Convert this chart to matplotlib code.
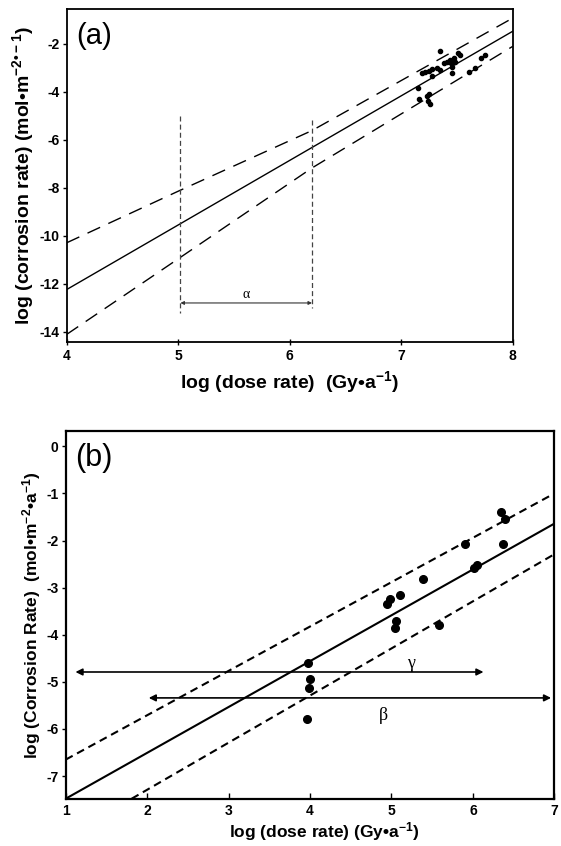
import numpy as np
import matplotlib
matplotlib.use('Agg')
import matplotlib.pyplot as plt

plt.rcParams['font.family'] = ['Liberation Sans', 'DejaVu Sans']
plt.rcParams['font.weight'] = 'bold'
plt.rcParams['axes.unicode_minus'] = False
plt.rcParams['mathtext.fontset'] = 'custom'
plt.rcParams['mathtext.rm'] = 'Liberation Sans:bold'
plt.rcParams['mathtext.default'] = 'rm'

# --- panel (a): high dose-rate data ---
a_dose = [7.35, 7.19, 7.25, 7.28, 7.32, 7.35, 7.28, 7.38, 7.41, 7.44, 7.45, 7.47, 7.48, 7.51,
          7.53, 7.46, 7.46, 7.15, 7.16, 7.23, 7.25, 7.26, 7.24, 7.61, 7.66, 7.72, 7.75, 7.21]
a_rate = [-2.29, -3.22, -3.11, -3.04, -3.01, -3.08, -3.33, -2.80, -2.74, -2.67, -2.80, -2.60, -2.74, -2.39,
          -2.46, -2.94, -3.19, -3.82, -4.29, -4.17, -4.10, -4.51, -4.38, -3.15, -2.99, -2.60, -2.46, -3.15]
a_fit_x = [4.0, 8.0]
a_fit_y = [-12.24, -1.47]
a_band_x = [4.0, 5.0, 6.2, 8.0]
a_upper = [-10.29, -8.14, -5.61, -0.92]
a_lower = [-14.11, -10.96, -7.17, -2.10]
alpha_range = [5.02, 6.20]
a_xticks = [4, 5, 6, 7, 8]
a_yticks = [-2, -4, -6, -8, -10, -12, -14]

# --- panel (b): low dose-rate data ---
b_dose = [3.97, 4.00, 3.99, 3.96, 4.95, 4.98, 5.10, 5.05, 5.04, 5.39, 5.58, 5.90, 6.01, 6.05,
          6.35, 6.40, 6.37]
b_rate = [-4.60, -4.93, -5.14, -5.78, -3.35, -3.25, -3.16, -3.71, -3.86, -2.81, -3.80, -2.07, -2.59, -2.52,
          -1.40, -1.54, -2.08]
b_fit_x = [1.0, 7.0]
b_fit_y = [-7.48, -1.64]
b_upper_x = [1.0, 7.0]
b_upper_y = [-6.65, -1.00]
b_lower_x = [1.81, 7.0]
b_lower_y = [-7.48, -2.29]
gamma_range = [1.12, 6.13]
gamma_level = -4.79
beta_range = [2.02, 6.96]
beta_level = -5.34
b_xticks = [1, 2, 3, 4, 5, 6, 7]
b_yticks = [0, -1, -2, -3, -4, -5, -6, -7]

greek = ['Liberation Serif', 'DejaVu Serif']


def set_bold_ticks(ax, xt, yt, size):
    ax.set_xticks(xt, labels=[str(v) for v in xt], fontweight='bold', fontsize=size)
    ax.set_yticks(yt, labels=[str(v) for v in yt], fontweight='bold', fontsize=size)


fig = plt.figure(figsize=(5.61, 8.46), dpi=100)

# ---------------- (a) ----------------
ax1 = fig.add_axes([0.1189, 0.5954, 0.795, 0.394])
ax1.plot(a_fit_x, a_fit_y, color='black', lw=1.0)
ax1.plot(a_band_x, a_upper, color='black', lw=1.0, dashes=(10, 6.5))
ax1.plot(a_band_x, a_lower, color='black', lw=1.0, dashes=(10, 6.5))
ax1.plot(a_dose, a_rate, 'o', color='black', ms=3)

ax1.plot([alpha_range[0]] * 2, [-5.0, -13.2], color='#444444', lw=0.9, dashes=(4, 2.5))
ax1.plot([alpha_range[1]] * 2, [-5.15, -13.0], color='#444444', lw=0.9, dashes=(4, 2.5))
ax1.annotate('', xy=(alpha_range[1], -12.8), xytext=(alpha_range[0], -12.8),
             arrowprops=dict(arrowstyle='<|-|>', color='#333333', lw=0.8, mutation_scale=5,
                             shrinkA=0, shrinkB=0))
ax1.text(np.mean(alpha_range), -12.46, 'α', family=greek, fontweight='normal',
         fontsize=10, ha='center', va='center')

ax1.set_xlim(4, 8)
ax1.set_ylim(-14.44, -0.54)
set_bold_ticks(ax1, a_xticks, a_yticks, 10)
ax1.tick_params(axis='y', direction='out', length=3, width=1, pad=2)
ax1.tick_params(axis='x', direction='inout', length=5, width=1, pad=2)
for s in ax1.spines.values():
    s.set_linewidth(1.3)
ax1.set_xlabel('log (dose rate)  (Gy•a$^{-1}$)', fontsize=14, fontweight='bold', labelpad=5)
ax1.set_ylabel('log (corrosion rate) (mol•m$^{-2•-1}$)', fontsize=14, fontweight='bold')
ax1.yaxis.set_label_coords(-0.068, 0.5)
ax1.text(0.022, 0.919, '(a)', transform=ax1.transAxes, fontsize=21, fontweight='normal',
         ha='left', va='center')

# ---------------- (b) ----------------
ax2 = fig.add_axes([0.1171, 0.0559, 0.871, 0.4343])
ax2.plot(b_fit_x, b_fit_y, color='black', lw=1.5)
ax2.plot(b_upper_x, b_upper_y, color='black', lw=1.5, dashes=(3.8, 2.4))
ax2.plot(b_lower_x, b_lower_y, color='black', lw=1.5, dashes=(3.8, 2.4))
ax2.plot(b_dose, b_rate, 'o', color='black', ms=5.5)

ax2.annotate('', xy=(gamma_range[1], gamma_level), xytext=(gamma_range[0], gamma_level),
             arrowprops=dict(arrowstyle='<|-|>', color='black', lw=1.2, mutation_scale=10,
                             shrinkA=0, shrinkB=0))
ax2.annotate('', xy=(beta_range[1], beta_level), xytext=(beta_range[0], beta_level),
             arrowprops=dict(arrowstyle='<|-|>', color='black', lw=1.2, mutation_scale=10,
                             shrinkA=0, shrinkB=0))
ax2.text(5.24, -4.61, 'γ', family=greek, fontweight='normal', fontsize=13,
         ha='center', va='center')
ax2.text(4.90, -5.71, 'β', family=greek, fontweight='normal', fontsize=13,
         ha='center', va='center')

ax2.set_xlim(1, 7)
ax2.set_ylim(-7.48, 0.32)
set_bold_ticks(ax2, b_xticks, b_yticks, 10)
ax2.tick_params(axis='y', direction='out', length=3, width=1, pad=2)
ax2.tick_params(axis='x', direction='in', length=4, width=1, pad=4)
for s in ax2.spines.values():
    s.set_linewidth(1.6)
ax2.set_xlabel('log (dose rate) (Gy•a$^{-1}$)', fontsize=12.5, fontweight='bold')
ax2.xaxis.set_label_coords(0.53, -0.058)
ax2.set_ylabel('log (Corrosion Rate)  (mol•m$^{-2}$•a$^{-1}$)', fontsize=12.5, fontweight='bold')
ax2.yaxis.set_label_coords(-0.047, 0.5)
ax2.text(0.019, 0.927, '(b)', transform=ax2.transAxes, fontsize=22, fontweight='normal',
         ha='left', va='center')

fig.savefig('out.png', dpi=100)
